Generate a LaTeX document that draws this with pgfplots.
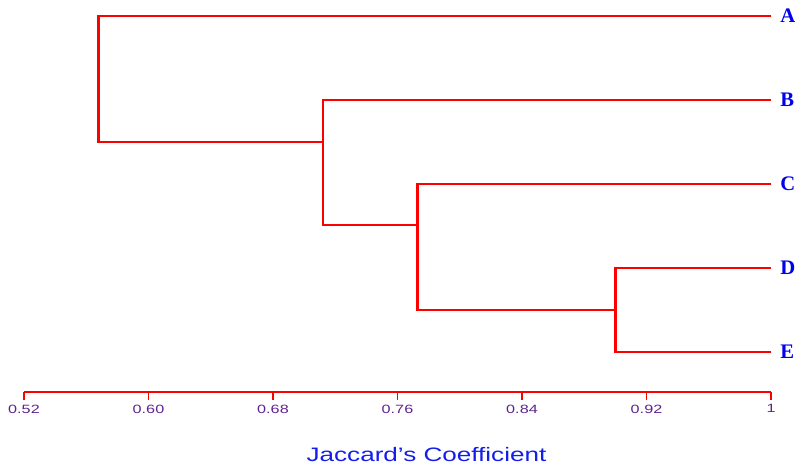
\documentclass[border=0pt]{standalone}
\usepackage{fontspec}
\setmainfont{Liberation Serif}
\newfontfamily\arial{Liberation Sans}
\usepackage{graphicx}
\usepackage{pgfplots}
\pgfplotsset{compat=1.18}
\definecolor{dred}{RGB}{255,0,0}
\definecolor{tickpurple}{RGB}{95,35,145}
\definecolor{lblue}{RGB}{0,0,235}
\definecolor{tblue}{RGB}{20,30,235}
\newcommand\tl[1]{\scalebox{1.35}[1]{#1}}
\begin{document}
\begin{tikzpicture}
\begin{axis}[
  scale only axis,
  width=560.25pt, height=282pt,
  xmin=0.52, xmax=1, ymin=0.5238, ymax=5,
  axis x line*=bottom, axis y line=none,
  x axis line style={dred, line width=1.1pt},
  xtick={0.52,0.60,0.68,0.76,0.84,0.92,1},
  xticklabels={\tl{0.52},\tl{0.60},\tl{0.68},\tl{0.76},\tl{0.84},\tl{0.92},\tl{1}},
  tick align=outside,
  major tick length=6pt,
  xtick style={dred, line width=1.1pt},
  xticklabel style={font=\arial\fontsize{9}{10}\selectfont, text=tickpurple, yshift=0pt},
  clip=false,
]
\addplot[dred, line width=1.9pt] coordinates {(1,5) (0.568,5) (0.568,3.5) (0.712,3.5)};
\addplot[dred, line width=1.3pt] coordinates {(1,4) (0.712,4) (0.712,2.51) (0.773,2.51)};
\addplot[dred, line width=1.9pt] coordinates {(1,3) (0.773,3) (0.773,1.5) (0.90,1.5)};
\addplot[dred, line width=1.9pt] coordinates {(1,2) (0.90,2) (0.90,1) (1,1)};
\foreach \lab/\yy in {A/5,B/4,C/3,D/2,E/1}{
  \edef\temp{\noexpand\node[anchor=west, text=lblue, font=\noexpand\bfseries\noexpand\fontsize{15.5}{16}\noexpand\selectfont, xshift=3.5pt, inner sep=3.33pt] at (axis cs:1,\yy) {\lab};}
  \temp
}
\node[anchor=center, text=tblue, font=\arial\fontsize{14.6}{16}\selectfont] at ([xshift=21.75pt, yshift=-47.25pt]axis description cs:0.5,0) {\scalebox{1.34}[1]{Jaccard’s Coefficient}};
\end{axis}
\pgfresetboundingbox
\path[use as bounding box] (-18pt,-55.5pt) rectangle (580.5pt,294pt);
\end{tikzpicture}
\end{document}
